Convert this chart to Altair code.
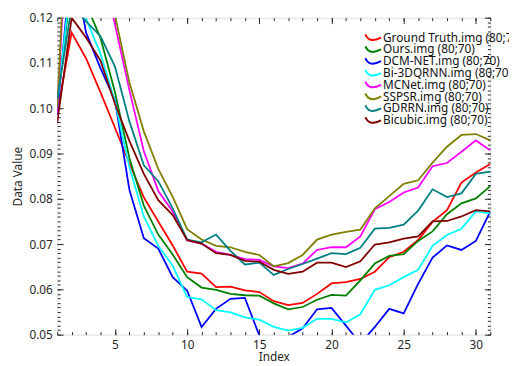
import altair as alt
import pandas as pd

FONT = "Noto Sans"

index = list(range(1, 32))

series_names = [
    "Ground Truth.img (80;70)",
    "Ours.img (80;70)",
    "DCM-NET.img (80;70)",
    "Bi-3DQRNN.img (80;70)",
    "MCNet.img (80;70)",
    "SSPSR.img (80;70)",
    "GDRRN.img (80;70)",
    "Bicubic.img (80;70)",
]
colors = ["#ff0000", "#008000", "#0000ff", "#00ffff", "#ff00ff", "#808000", "#008080", "#800000"]

ground_truth = [0.099, 0.1167, 0.111, 0.1035, 0.0957, 0.0878, 0.0803, 0.075, 0.0697, 0.0639,
                0.0635, 0.0605, 0.0606, 0.0598, 0.0594, 0.0574, 0.0565, 0.057, 0.059, 0.0613,
                0.0616, 0.0623, 0.0639, 0.0671, 0.0683, 0.0709, 0.0749, 0.0775, 0.0836, 0.0858, 0.0877]
ours = [0.101, 0.128, 0.123, 0.1155, 0.1036, 0.089, 0.0785, 0.0721, 0.0677, 0.0627,
        0.0604, 0.0599, 0.059, 0.0587, 0.0586, 0.0569, 0.0556, 0.0561, 0.0577, 0.0588,
        0.0586, 0.062, 0.0657, 0.0674, 0.0678, 0.0707, 0.0728, 0.0766, 0.079, 0.0801, 0.0828]
dcm_net = [0.0985, 0.134, 0.1167, 0.1088, 0.1018, 0.082, 0.0713, 0.069, 0.0627, 0.0597,
           0.0517, 0.0557, 0.0579, 0.0581, 0.0498, 0.046, 0.0495, 0.0514, 0.0556, 0.0559,
           0.052, 0.048, 0.0517, 0.0557, 0.0547, 0.0612, 0.067, 0.0697, 0.0687, 0.0707, 0.0772]
bi3dqrnn = [0.1005, 0.13, 0.1198, 0.112, 0.1015, 0.087, 0.0761, 0.0696, 0.0652, 0.0583,
            0.0578, 0.0554, 0.0549, 0.0538, 0.0533, 0.0517, 0.0509, 0.0515, 0.0535, 0.0535,
            0.0527, 0.0545, 0.0599, 0.0609, 0.0627, 0.0643, 0.0696, 0.072, 0.0734, 0.0772, 0.0768]
mcnet = [0.099, 0.16, 0.15, 0.133, 0.1185, 0.104, 0.0905, 0.0817, 0.0772, 0.0708,
         0.0701, 0.0683, 0.0676, 0.0667, 0.0665, 0.0651, 0.0647, 0.0657, 0.0687, 0.0693,
         0.0693, 0.0717, 0.0777, 0.0793, 0.0814, 0.0825, 0.0872, 0.0879, 0.0904, 0.0929, 0.0907]
sspsr = [0.1, 0.165, 0.155, 0.138, 0.1205, 0.1057, 0.0949, 0.0866, 0.0804, 0.0733,
         0.071, 0.0696, 0.0693, 0.0683, 0.0676, 0.0651, 0.0658, 0.0676, 0.071, 0.0721,
         0.0727, 0.0732, 0.0779, 0.0806, 0.0833, 0.0841, 0.088, 0.0915, 0.0941, 0.0943, 0.0929]
gdrrn = [0.102, 0.1225, 0.1192, 0.1159, 0.1092, 0.0971, 0.0874, 0.0839, 0.0779, 0.071,
         0.0704, 0.0721, 0.0685, 0.0655, 0.0659, 0.0632, 0.0645, 0.0656, 0.0668, 0.068,
         0.0678, 0.0692, 0.0734, 0.0736, 0.0743, 0.0774, 0.0821, 0.0804, 0.0812, 0.0855, 0.086]
bicubic = [0.0967, 0.12, 0.1156, 0.1105, 0.101, 0.0928, 0.0855, 0.0797, 0.0764, 0.0709,
           0.0701, 0.068, 0.0676, 0.0663, 0.0661, 0.0643, 0.0634, 0.0639, 0.0659, 0.0659,
           0.0649, 0.0662, 0.0699, 0.0704, 0.0712, 0.0717, 0.075, 0.0751, 0.0761, 0.0775, 0.0772]

all_series = [ground_truth, ours, dcm_net, bi3dqrnn, mcnet, sspsr, gdrrn, bicubic]

x_major = [5, 10, 15, 20, 25, 30]
x_minor = list(range(1, 32))
y_major = [0.05, 0.06, 0.07, 0.08, 0.09, 0.10, 0.11, 0.12]
y_minor = [round(0.05 + k * 0.001, 3) for k in range(71)]

rows = []
for name, vals in zip(series_names, all_series):
    for i, v in zip(index, vals):
        rows.append({"Series": name, "Index": i, "Value": v})
df = pd.DataFrame(rows)

xs = alt.Scale(domain=[1, 31], nice=False, zero=False)
ys = alt.Scale(domain=[0.05, 0.12], nice=False, zero=False)

TXT = "#262626"
SYMBOL = "M -1 -0.4 C -0.6 0.45 0 0.5 1 0"

lines = alt.Chart(df).mark_line(clip=True, strokeWidth=1.8).encode(
    x=alt.X("Index:Q", scale=xs,
            axis=alt.Axis(orient="bottom", values=x_major, tickSize=6, offset=-6, domain=False,
                          grid=False, labelPadding=5, title="Index", titlePadding=1,
                          labelFont=FONT, labelFontSize=12, labelColor=TXT,
                          titleFont=FONT, titleFontSize=12, titleFontWeight="normal",
                          titleColor=TXT, tickColor=TXT, tickWidth=1)),
    y=alt.Y("Value:Q", scale=ys,
            axis=alt.Axis(orient="left", values=y_major, format=".2f", tickSize=6, offset=-6,
                          domain=False, grid=False, labelPadding=5, title="Data Value",
                          titlePadding=4, labelFont=FONT, labelFontSize=12, labelColor=TXT,
                          titleFont=FONT, titleFontSize=12, titleFontWeight="normal",
                          titleColor=TXT, tickColor=TXT, tickWidth=1)),
    color=alt.Color("Series:N", sort=series_names,
                    scale=alt.Scale(domain=series_names, range=colors),
                    legend=alt.Legend(orient="none", legendX=312, legendY=15, title=None,
                                      symbolType=SYMBOL, symbolSize=256, symbolStrokeWidth=2,
                                      symbolFillColor="transparent",
                                      labelFont=FONT, labelFontSize=12, labelColor="#111111",
                                      labelOffset=1, rowPadding=-2.5, clipHeight=10.4,
                                      padding=0, labelLimit=300)),
)


def ghost(xo, xv, xt, yo, yv, yt):
    return alt.Chart(df).mark_point(opacity=0, clip=True).encode(
        x=alt.X("Index:Q", scale=xs,
                axis=alt.Axis(orient=xo, values=xv, tickSize=xt, offset=-xt, domain=False,
                              grid=False, labels=False, title=None, tickColor=TXT, tickWidth=1)),
        y=alt.Y("Value:Q", scale=ys,
                axis=alt.Axis(orient=yo, values=yv, tickSize=yt, offset=-yt, domain=False,
                              grid=False, labels=False, title=None, tickColor=TXT, tickWidth=1)),
    )


chart = alt.layer(
    lines,
    ghost("bottom", x_minor, 3, "left", y_minor, 3),
    ghost("top", x_major, 6, "right", y_major, 6),
    ghost("top", x_minor, 3, "right", y_minor, 3),
).resolve_axis(x="independent", y="independent").properties(
    width=440, height=322,
    autosize=alt.AutoSizeParams(type="none"),
    padding={"left": 50, "top": 7, "right": 19, "bottom": 28},
).configure_view(stroke="#000000", strokeWidth=1.2).configure(background="white")

chart.save("out.html", embed_options={"renderer": "svg", "actions": False})
